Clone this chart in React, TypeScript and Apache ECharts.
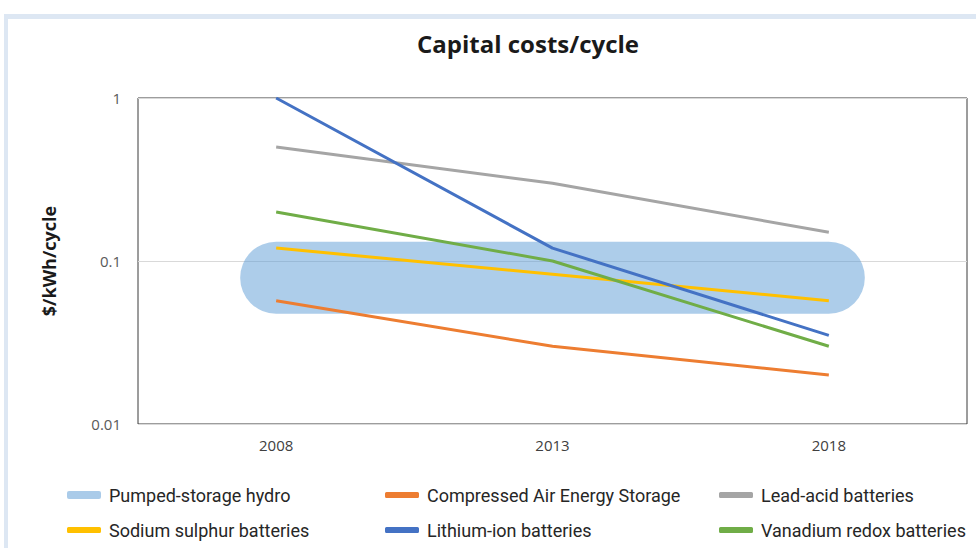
import React, { useEffect, useRef } from "react";
import * as echarts from "echarts";

const years = ["2008", "2013", "2018"];
const pumpedHydro = [0.079, 0.079, 0.079];
const caes = [0.057, 0.03, 0.02];
const leadAcid = [0.5, 0.3, 0.15];
const sodiumSulphur = [0.12, 0.083, 0.057];
const lithiumIon = [1, 0.12, 0.035];
const vanadium = [0.2, 0.1, 0.03];

const names = [
  "Pumped-storage hydro",
  "Compressed Air Energy Storage",
  "Lead-acid batteries",
  "Sodium sulphur batteries",
  "Lithium-ion batteries",
  "Vanadium redox batteries",
];
const colors = ["#5b9bd5", "#ed7d31", "#a5a5a5", "#ffc000", "#4472c4", "#70ad47"];

const legendFont = "'Roboto', sans-serif";

export default function App() {
  const ref = useRef<HTMLDivElement>(null);
  useEffect(() => {
    const chart = echarts.init(ref.current!, undefined, { renderer: "svg" });
    const lineSeries = [
      { name: names[1], data: caes, color: colors[1] },
      { name: names[2], data: leadAcid, color: colors[2] },
      { name: names[3], data: sodiumSulphur, color: colors[3] },
      { name: names[4], data: lithiumIon, color: colors[4] },
      { name: names[5], data: vanadium, color: colors[5] },
    ];
    const legendPos = [
      [67, 486],
      [385, 486],
      [719, 486],
      [67, 521],
      [385, 521],
      [719, 521],
    ];
    chart.setOption({
      animation: false,
      backgroundColor: "#ffffff",
      title: {
        text: "Capital costs/cycle",
        left: 417,
        top: 31,
        padding: 0,
        textStyle: { fontFamily: "'Open Sans', sans-serif", fontWeight: "bold", fontSize: 24, color: "#1a1a1a" },
      },
      graphic: [
        { type: "rect", shape: { x: 4, y: 14, width: 972, height: 5 }, style: { fill: "#dde7f3" } },
        { type: "rect", shape: { x: 4, y: 14, width: 4, height: 534 }, style: { fill: "#dde7f3" } },
      ],
      legend: names.map((n, i) => ({
        left: legendPos[i][0],
        top: legendPos[i][1],
        padding: 0,
        data: [
          {
            name: n,
            icon: "roundRect",
            itemStyle: { color: i === 0 ? "#aacbe9" : colors[i], opacity: 1 },
          },
        ],
        itemWidth: 34,
        itemHeight: i === 0 ? 8 : 6,
        textStyle: { fontFamily: legendFont, fontSize: 18, color: "#262626", padding: [0, 0, 0, 3] },
      })),
      grid: {
        left: 138,
        right: 9,
        top: 98,
        bottom: 124,
        show: true,
        borderColor: "#3a3a3a",
        borderWidth: 1,
        backgroundColor: "transparent",
      },
      xAxis: {
        type: "category",
        data: years,
        boundaryGap: true,
        axisLine: { show: false },
        axisTick: { show: false },
        axisLabel: { fontFamily: "'Open Sans', sans-serif", fontSize: 15, color: "#404040", margin: 13 },
      },
      yAxis: {
        type: "log",
        logBase: 10,
        min: 0.01,
        max: 1,
        name: "$/kWh/cycle",
        nameLocation: "middle",
        nameRotate: 90,
        nameGap: 80,
        nameTextStyle: { fontFamily: "'Open Sans', sans-serif", fontWeight: "bold", fontSize: 18, color: "#1a1a1a" },
        axisLine: { show: false },
        axisTick: { show: false },
        splitLine: { show: true, lineStyle: { color: "#d9d9d9", width: 1 } },
        axisLabel: {
          fontFamily: "'Open Sans', sans-serif",
          fontSize: 15,
          color: "#595959",
          margin: 17,
          formatter: (v: number) => String(v),
        },
      },
      series: [
        {
          name: names[0],
          type: "line",
          data: pumpedHydro,
          symbol: "none",
          color: colors[0],
          lineStyle: { width: 72, cap: "round", color: colors[0], opacity: 0.5 },
          z: 1,
        },
        ...lineSeries.map((s) => ({
          name: s.name,
          type: "line",
          data: s.data,
          symbol: "none",
          color: s.color,
          lineStyle: { width: 3, color: s.color },
          z: 2,
        })),
      ],
    });
    return () => chart.dispose();
  }, []);
  return (
    <div
      ref={ref}
      style={{ position: "fixed", left: 0, top: 0, width: 976, height: 548 }}
    />
  );
}
